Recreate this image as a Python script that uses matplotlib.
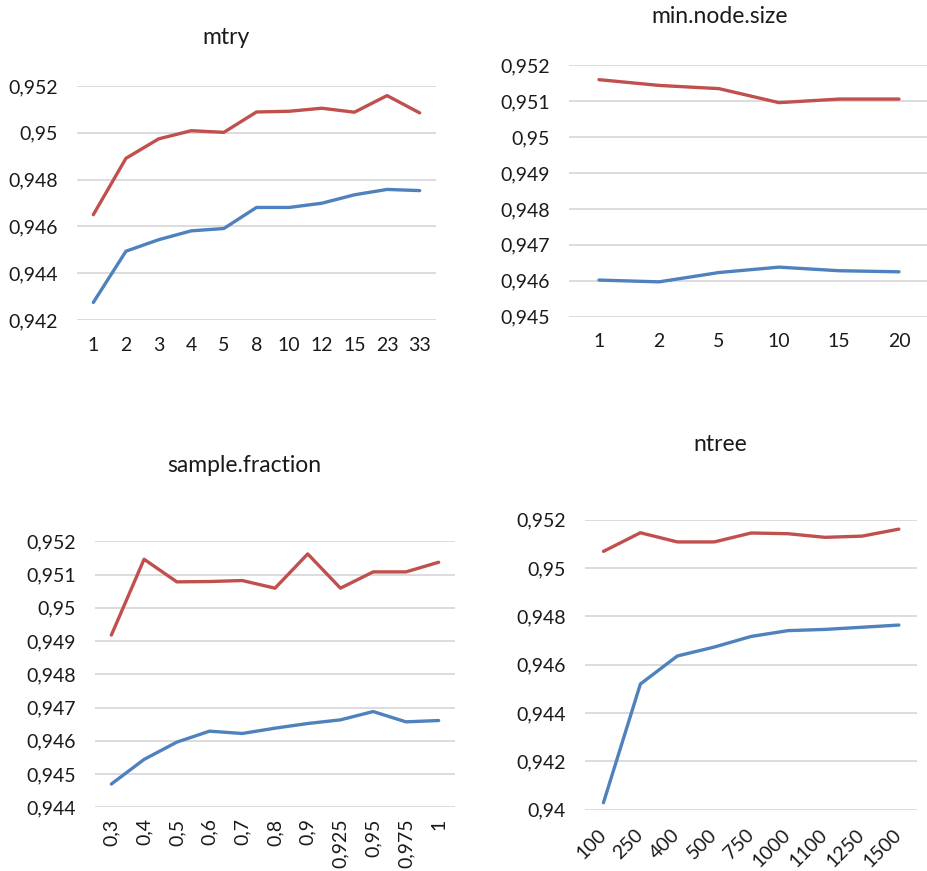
import matplotlib.pyplot as plt

plt.rcParams['font.family'] = ['Lato', 'DejaVu Sans']

RED = '#C0504D'
BLUE = '#4F81BD'
GRID = '#D9D9D9'

# mtry
mtry_cats = ['1', '2', '3', '4', '5', '8', '10', '12', '15', '23', '33']
mtry_red = [0.94650, 0.94891, 0.94974, 0.95009, 0.95002, 0.95089, 0.95092, 0.95105, 0.95088, 0.95159, 0.95085]
mtry_blue = [0.94275, 0.94494, 0.94543, 0.94581, 0.94591, 0.94681, 0.94681, 0.94699, 0.94735, 0.94758, 0.94753]
mtry_yticks = [0.942, 0.944, 0.946, 0.948, 0.95, 0.952]
mtry_ylabels = ['0,942', '0,944', '0,946', '0,948', '0,95', '0,952']

# min.node.size
mns_cats = ['1', '2', '5', '10', '15', '20']
mns_red = [0.95160, 0.95144, 0.95135, 0.95096, 0.95106, 0.95106]
mns_blue = [0.94602, 0.94597, 0.94623, 0.94638, 0.94628, 0.94625]
mns_yticks = [0.945, 0.946, 0.947, 0.948, 0.949, 0.95, 0.951, 0.952]
mns_ylabels = ['0,945', '0,946', '0,947', '0,948', '0,949', '0,95', '0,951', '0,952']

# sample.fraction
sf_cats = ['0,3', '0,4', '0,5', '0,6', '0,7', '0,8', '0,9', '0,925', '0,95', '0,975', '1']
sf_red = [0.94918, 0.95146, 0.95078, 0.95079, 0.95082, 0.95059, 0.95162, 0.95059, 0.95108, 0.95108, 0.95137]
sf_blue = [0.94470, 0.94544, 0.94596, 0.94629, 0.94622, 0.94638, 0.94652, 0.94663, 0.94688, 0.94657, 0.94661]
sf_yticks = [0.944, 0.945, 0.946, 0.947, 0.948, 0.949, 0.95, 0.951, 0.952]
sf_ylabels = ['0,944', '0,945', '0,946', '0,947', '0,948', '0,949', '0,95', '0,951', '0,952']

# ntree
nt_cats = ['100', '250', '400', '500', '750', '1000', '1100', '1250', '1500']
nt_red = [0.95069, 0.95146, 0.95108, 0.95108, 0.95145, 0.95142, 0.95127, 0.95132, 0.95161]
nt_blue = [0.94029, 0.94520, 0.94636, 0.94673, 0.94717, 0.94741, 0.94746, 0.94755, 0.94764]
nt_yticks = [0.94, 0.942, 0.944, 0.946, 0.948, 0.95, 0.952]
nt_ylabels = ['0,94', '0,942', '0,944', '0,946', '0,948', '0,95', '0,952']

fig = plt.figure(figsize=(9.28, 8.71), dpi=100)

W, H = 928.0, 871.0


def panel(box, cats, red, blue, yticks, ylabels, rot=0):
    x0, x1, ytop, ybot = box
    ax = fig.add_axes([x0 / W, 1 - ybot / H, (x1 - x0) / W, (ybot - ytop) / H])
    x = list(range(len(cats)))
    ax.plot(x, blue, color=BLUE, lw=2.4, solid_capstyle='round', zorder=3)
    ax.plot(x, red, color=RED, lw=2.4, solid_capstyle='round', zorder=3)
    ax.set_xlim(-0.5, len(cats) - 0.5)
    ax.set_ylim(yticks[0], yticks[-1])
    ax.set_yticks(yticks)
    ax.set_yticklabels(ylabels, fontsize=14, color='#1a1a1a')
    ax.set_xticks(x)
    for s in ax.spines.values():
        s.set_visible(False)
    ax.grid(axis='y', color=GRID, lw=1.3)
    ax.set_axisbelow(True)
    ax.tick_params(axis='y', length=0, pad=14)
    ax.tick_params(axis='x', length=0, pad=12)
    ax.set_facecolor('none')
    if rot == 0:
        ax.set_xticklabels(cats, fontsize=14, color='#1a1a1a')
    elif rot == 90:
        ax.set_xticklabels(cats, fontsize=14, color='#1a1a1a', rotation=90, va='top', ha='center')
        ax.tick_params(axis='x', pad=8)
    else:
        ax.set_xticklabels(cats, fontsize=14, color='#1a1a1a', rotation=45,
                           ha='right', va='center', rotation_mode='anchor')
        ax.tick_params(axis='x', pad=16)
    ax.yaxis.get_gridlines()
    return ax


panel((77, 436, 86, 320), mtry_cats, mtry_red, mtry_blue, mtry_yticks, mtry_ylabels)
panel((569, 929, 65.3, 316.7), mns_cats, mns_red, mns_blue, mns_yticks, mns_ylabels)
panel((95, 455, 541.3, 807.3), sf_cats, sf_red, sf_blue, sf_yticks, sf_ylabels, rot=90)
panel((585, 917.3, 519.7, 809.7), nt_cats, nt_red, nt_blue, nt_yticks, nt_ylabels, rot=45)

titles = [('mtry', 226, 44), ('min.node.size', 720, 23),
          ('sample.fraction', 244, 472), ('ntree', 720, 451)]
for t, tx, ty in titles:
    fig.text(tx / W, 1 - ty / H, t, fontsize=16.5, ha='center', va='baseline', color='#1a1a1a')

fig.savefig('out.png', dpi=100, facecolor='white')
